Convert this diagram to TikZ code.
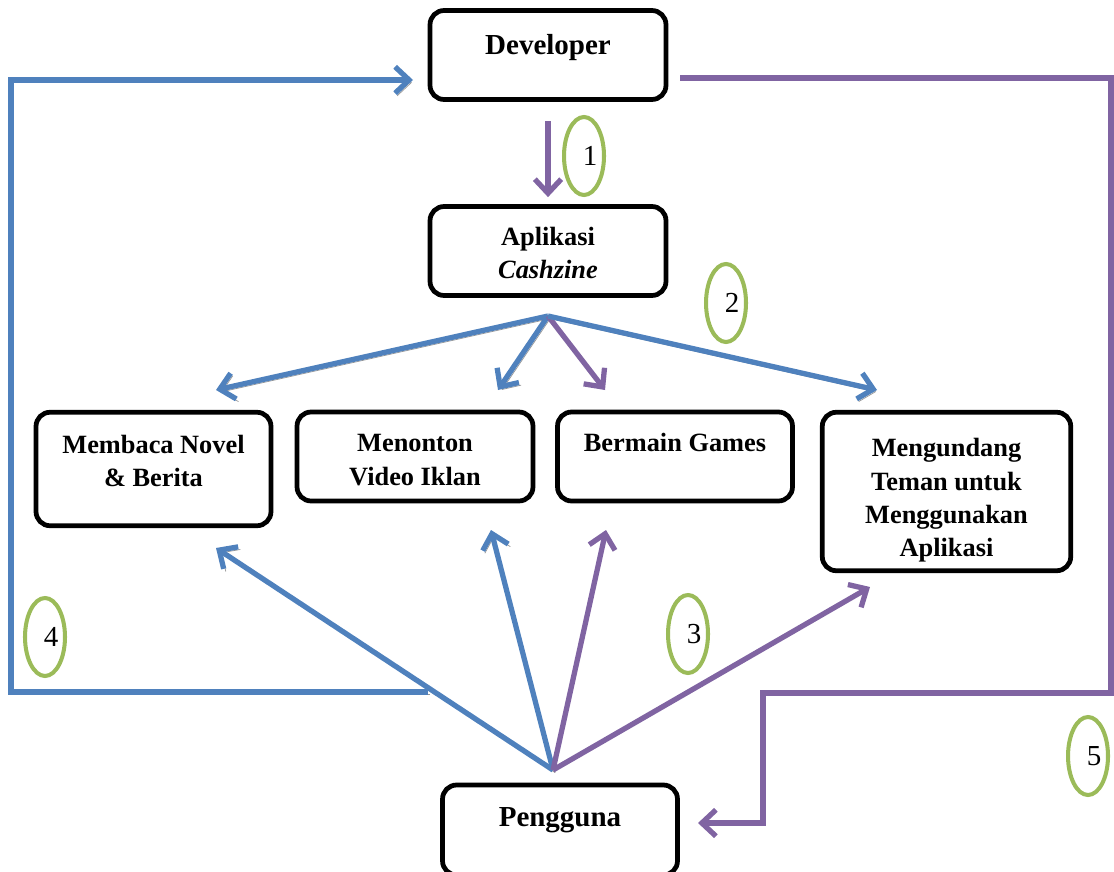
\documentclass[tikz,border=0pt]{standalone}
\usepackage{fontspec}
\setmainfont{Liberation Serif}
\usetikzlibrary{arrows.meta,shapes.geometric}
\definecolor{linkblue}{RGB}{79,129,189}
\definecolor{linkpurple}{RGB}{128,100,162}
\definecolor{ovalgreen}{RGB}{155,187,89}
\definecolor{shadowgray}{RGB}{150,150,150}
\tikzset{
  proc/.style={draw, rounded corners=8pt, line width=2.7pt, minimum width=4.72cm, minimum height=1.78cm},
  proctext/.style={inner sep=0pt, align=center, font=\fontsize{15}{19}\selectfont\bfseries},
  bigtext/.style={font=\fontsize{16.5}{19}\selectfont\bfseries},
  barb/.style={-{Straight Barb[length=8pt,width=15pt]}},
  bluelink/.style={draw=linkblue, line width=3pt,
    preaction={draw=shadowgray, transform canvas={shift={(1.2pt,-1.5pt)}}}},
  purplelink/.style={draw=linkpurple, line width=3pt},
  stepno/.style={ellipse, draw=ovalgreen, line width=2.3pt, minimum width=0.8cm,
    minimum height=1.56cm, inner sep=0pt, font=\fontsize{16.5}{18}\selectfont,
    execute at begin node=\hspace{7pt}}
}
\begin{document}
\begin{tikzpicture}[x=0.02cm, y=-0.02cm]
    \useasboundingbox (0,0) rectangle (1114,871);

    % Boxes
    \node[proc, label={[proctext, bigtext, below=15pt]north:Developer}] (dev) at (548,55) {};
    \node[proc, label={[proctext, below=13pt]north:Aplikasi\\\textit{Cashzine}}] (app) at (548,251) {};
    \node[proc, minimum width=4.7cm, minimum height=2.27cm,
          label={[proctext, below=14pt]north:Membaca Novel\\\& Berita}] (novel) at (153.5,469) {};
    \node[proc, label={[proctext, below=14pt]north:Menonton\\Video Iklan}] (video) at (415,456.5) {};
    \node[proc, minimum width=4.7cm, label={[proctext, below=13pt]north:Bermain Games}] (games) at (675,456.5) {};
    \node[proc, minimum width=4.97cm, minimum height=3.17cm,
          label={[proctext, below=16pt]north:Mengundang\\Teman untuk\\Menggunakan\\Aplikasi}] (invite) at (946.5,491.5) {};
    \node[proc, minimum width=4.7cm, minimum height=1.8cm,
          label={[proctext, bigtext, below=14pt]north:Pengguna}] (user) at (560,830) {};

    % Fan points and arrow ends
    \coordinate (appfan) at (548,316);
    \coordinate (userfan) at (553,770);
    \coordinate (novelin) at (216,390);
    \coordinate (videoin) at (498,390);
    \coordinate (gamesin) at (605,390);
    \coordinate (invitein) at (877,390);
    \coordinate (novelup) at (216,548);
    \coordinate (videoup) at (491,530);
    \coordinate (gamesup) at (606,530);
    \coordinate (inviteup) at (870,587);
    \coordinate (loopfour) at (428,692);
    \coordinate (devin) at (413,80);
    \coordinate (loopfive) at (680,78);
    \coordinate (userin) at (698,823);

    % Step 1
    \draw[purplelink, barb, shorten <=11pt, shorten >=4pt] (dev) -- (app);

    % Step 2
    \draw[bluelink, barb] (appfan) -- (novelin);
    \draw[bluelink, barb] (appfan) -- (videoin);
    \draw[purplelink, barb] (appfan) -- (gamesin);
    \draw[bluelink, barb] (appfan) -- (invitein);

    % Step 3
    \draw[bluelink, barb] (userfan) -- (novelup);
    \draw[bluelink, barb] (userfan) -- (videoup);
    \draw[purplelink, barb] (userfan) -- (gamesup);
    \draw[purplelink, barb] (userfan) -- (inviteup);

    % Step 4
    \draw[bluelink, barb] (loopfour) -- (11,692) |- (devin);

    % Step 5
    \draw[purplelink, barb] (loopfive) -- (1111,78) -- (1111,693) -| (763,823) -- (userin);

    % Step numbers
    \node[stepno] (s1) at (584,156) {1};
    \node[stepno] (s2) at (726,303) {2};
    \node[stepno] (s3) at (688,634) {3};
    \node[stepno] (s4) at (45,637) {4};
    \node[stepno] (s5) at (1088,756) {5};
\end{tikzpicture}
\end{document}
